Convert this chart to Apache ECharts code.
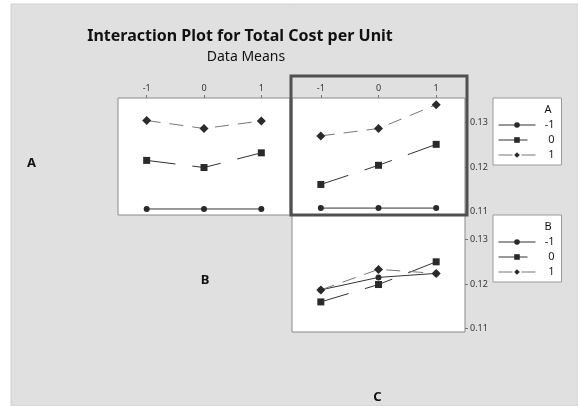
<!DOCTYPE html>
<html>
<head>
<meta charset="utf-8">
<script src="https://cdn.jsdelivr.net/npm/echarts@6/dist/echarts.min.js"></script>
<style>
  html, body { margin: 0; padding: 0; background: #ffffff; }
  #chart { width: 578px; height: 406px; }
</style>
</head>
<body>
<div id="chart"></div>
<script>
// ---- data ----
const xLabels = ['-1', '0', '1'];
const levelNames = ['-1', '0', '1'];
const yTicks = [0.11, 0.12, 0.13];

// Panel row 1, column 2 (lines = A)
const p1_Aneg1 = [0.1106, 0.1106, 0.1106];
const p1_A0    = [0.1215, 0.1199, 0.1232];
const p1_A1    = [0.13045, 0.12866, 0.13036];
// Panel row 1, column 3 (lines = A, x = C)
const p2_Aneg1 = [0.1108, 0.1108, 0.1108];
const p2_A0    = [0.1161, 0.1204, 0.1251];
const p2_A1    = [0.1270, 0.12866, 0.1340];
// Panel row 2, column 3 (lines = B, x = C)
const p3_Bneg1 = [0.1187, 0.1215, 0.1224];
const p3_B0    = [0.1160, 0.1199, 0.1250];
const p3_B1    = [0.1187, 0.1233, 0.1224];

const YMIN = 0.10925, YMAX = 0.1355;
const FONT = 'Noto Sans';

const styles = [
  { symbol: 'circle', symbolSize: 6, line: { color: '#333', width: 1, type: 'solid' } },
  { symbol: 'rect', symbolSize: 7, line: { color: '#333', width: 1, type: [29, 17] } },
  { symbol: 'diamond', symbolSize: 9, line: { color: '#777', width: 1, type: [14, 9] } }
];

function mk(name, data, idx, k) {
  const s = styles[k];
  return {
    type: 'line', name: name, data: data,
    xAxisIndex: idx, yAxisIndex: idx,
    symbol: s.symbol, symbolSize: s.symbolSize,
    itemStyle: { color: '#2a2a2a' },
    lineStyle: s.line,
    emphasis: { disabled: true },
    animation: false
  };
}

const grids = [
  { left: 118, top: 98, width: 172, height: 117 },
  { left: 292, top: 98, width: 173, height: 117 },
  { left: 292, top: 215, width: 173, height: 117 }
].map(g => Object.assign(g, { show: true, backgroundColor: '#ffffff', borderColor: '#8a8a8a', borderWidth: 1 }));

function xAxis(i, showLabels) {
  return {
    type: 'category', gridIndex: i, data: xLabels, position: 'top',
    boundaryGap: true,
    axisLine: { show: false },
    axisTick: { show: showLabels, alignWithLabel: true, length: 3, lineStyle: { color: '#777' } },
    axisLabel: { show: showLabels, margin: 5, fontFamily: FONT, fontSize: 9, color: '#333' },
    splitLine: { show: false }
  };
}
function yAxis(i, showLabels) {
  return {
    type: 'value', gridIndex: i, min: YMIN, max: YMAX, position: 'right',
    axisLine: { show: false },
    axisTick: { show: showLabels, length: 3, customValues: yTicks, lineStyle: { color: '#777' } },
    axisLabel: { show: showLabels, margin: 5, fontFamily: FONT, fontSize: 9, color: '#333',
                 customValues: yTicks, formatter: v => v.toFixed(2) },
    splitLine: { show: false }
  };
}

function legendBox(top) {
  return {
    orient: 'vertical', left: 493, top: top,
    data: levelNames.map((n, k) => ({
      name: n,
      itemStyle: { color: '#2a2a2a' },
      lineStyle: { color: styles[k].line.color, width: 1, type: styles[k].line.type }
    })),
    backgroundColor: '#ffffff', borderColor: '#9a9a9a', borderWidth: 1,
    padding: [21.5, 7, 4.5, 5],
    itemWidth: 37, itemHeight: 7, itemGap: 4,
    selectedMode: false,
    formatter: '{a|{name}}',
    textStyle: { fontFamily: FONT, fontSize: 11, color: '#222',
      rich: { a: { width: 14, align: 'right', fontFamily: FONT, fontSize: 11, color: '#222' } } }
  };
}

function txt(text, x, y, size, bold) {
  return {
    text: text, left: x, top: y, padding: 0,
    textAlign: 'center', textVerticalAlign: 'middle',
    textStyle: { fontFamily: FONT, fontSize: size, fontWeight: bold ? 'bold' : 'normal', color: '#111' }
  };
}

const option = {
  backgroundColor: '#ffffff',
  animation: false,
  title: [
    txt('Interaction Plot for Total Cost per Unit', 240, 36, 16, true),
    txt('Data Means', 246, 57, 14, false),
    txt('A', 31.5, 163.5, 13, true),
    txt('B', 205, 280, 13, true),
    txt('C', 377.5, 397.5, 13, true),
    txt('A', 548, 110, 11, false),
    txt('B', 548, 227, 11, false)
  ],
  graphic: [
    { type: 'rect', z: -100, silent: true, shape: { x: 11, y: 4, width: 567, height: 402 },
      style: { fill: '#e0e0e0', stroke: '#cfcfcf', lineWidth: 1 } },
    { type: 'rect', z: 100, silent: true, shape: { x: 291, y: 76, width: 176, height: 139 },
      style: { fill: 'none', stroke: '#505050', lineWidth: 3 } }
  ],
  legend: [legendBox(98), legendBox(215)],
  grid: grids,
  xAxis: [xAxis(0, true), xAxis(1, true), xAxis(2, false)],
  yAxis: [yAxis(0, false), yAxis(1, true), yAxis(2, true)],
  series: [
    mk(levelNames[0], p1_Aneg1, 0, 0),
    mk(levelNames[1], p1_A0, 0, 1),
    mk(levelNames[2], p1_A1, 0, 2),
    mk(levelNames[0], p2_Aneg1, 1, 0),
    mk(levelNames[1], p2_A0, 1, 1),
    mk(levelNames[2], p2_A1, 1, 2),
    mk(levelNames[0], p3_Bneg1, 2, 0),
    mk(levelNames[1], p3_B0, 2, 1),
    mk(levelNames[2], p3_B1, 2, 2)
  ]
};

const chart = echarts.init(document.getElementById('chart'), null, { renderer: 'canvas' });
chart.setOption(option);
</script>
</body>
</html>
